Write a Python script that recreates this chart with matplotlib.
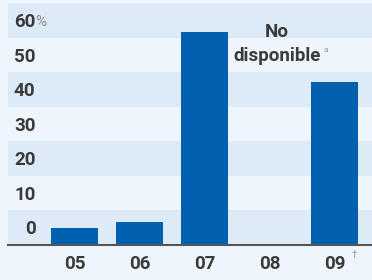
import matplotlib.pyplot as plt

years = ['05', '06', '07', '08', '09']
values = [4.9, 6.7, 61.7, None, 47.2]
y_ticks = [0, 10, 20, 30, 40, 50, 60]

bar_color = '#0060b0'
band_dark = '#ddebf8'
band_light = '#eef5fc'
text_color = '#3a3a3a'
font = ['Roboto', 'DejaVu Sans']
fs = 13.5
fw = 'bold'

fig = plt.figure(figsize=(3.72, 2.80), dpi=100, facecolor=band_light)
ax = fig.add_axes([8 / 372, 35 / 280, 364 / 372, 245 / 280])
ax.set_facecolor(band_light)

ax.set_xlim(-1.023, 4.577)
ax.set_ylim(0, 71.0)

# alternating horizontal bands
for i, t in enumerate(y_ticks):
    if i % 2 == 0:
        ax.axhspan(t, t + 10, color=band_dark, lw=0, zorder=0)

x = list(range(len(years)))
for xi, v in zip(x, values):
    if v is not None:
        ax.bar(xi, v, width=0.723, color=bar_color, zorder=2)

# y labels sit above their line
for t in y_ticks:
    ax.text(-0.6, t + 4.5, str(t), ha='right', va='center', fontsize=fs,
            fontweight=fw, color=text_color, family=font, zorder=3)
ax.text(-0.6, 60 + 4.5, '%', ha='left', va='center', fontsize=11,
        color='#8a8a8a', family=font, zorder=3)

ax.axhline(0, color='#555555', lw=1.5, zorder=4, clip_on=False)

ax.set_xticks(x)
ax.set_xticklabels(years, fontsize=fs, fontweight=fw, color=text_color,
                   family=font)
ax.tick_params(axis='x', length=0, pad=7)
ax.set_yticks([])
for s in ax.spines.values():
    s.set_visible(False)

ax.text(3.115, 61.7, 'No', ha='center', va='center', fontsize=fs,
        fontweight=fw, color=text_color, family=font)
ax.text(3.115, 54.8, 'disponible', ha='center', va='center', fontsize=fs,
        fontweight=fw, color=text_color, family=font)
ax.text(3.83, 56.5, 'a', ha='left', va='center', fontsize=6,
        color='#999999', family=font)
ax.text(4.27, -3.0, '\u2020', ha='left', va='center', fontsize=7,
        color='#999999', family=font, clip_on=False)

fig.savefig('out.png', dpi=100, facecolor=fig.get_facecolor())
